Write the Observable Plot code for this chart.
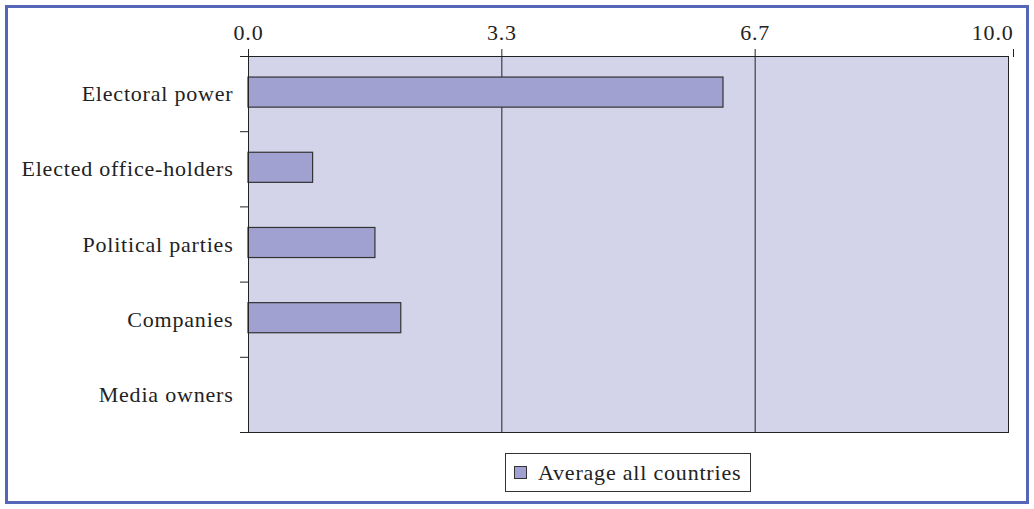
<!DOCTYPE html>
<html>
<head>
<meta charset="utf-8">
<script src="https://cdn.jsdelivr.net/npm/d3@7"></script>
<script src="https://cdn.jsdelivr.net/npm/@observablehq/plot@0.6"></script>
<style>
  html, body { margin: 0; padding: 0; background: #fff; }
  #wrap { position: relative; width: 1034px; height: 509px; overflow: hidden; font-family: "Liberation Serif", "DejaVu Serif", serif; }
  #chart svg text { letter-spacing: 0.8px; }
  #border { position: absolute; left: 5px; top: 5px; width: 1018px; height: 493px; border: 3px solid #5565b8; pointer-events: none; }
  #legend { position: absolute; left: 505px; top: 453px; height: 37px; padding: 0 9px 0 8px; border: 1px solid #333; background: #fff;
            display: flex; align-items: center; gap: 11px; font-size: 22px; letter-spacing: 0.8px; color: #222; }
  #legend .sw { width: 11px; height: 11px; background: #a0a1d0; border: 1px solid #333; }
</style>
</head>
<body>
<div id="wrap">
  <div id="chart"></div>
  <div id="legend"><span class="sw"></span><span>Average all countries</span></div>
  <div id="border"></div>
</div>
<script>
// Categories, top to bottom
const categories = ["Electoral power", "Elected office-holders", "Political parties", "Companies", "Media owners"];
// Average score for all countries (0–10 scale)
const values = [6.25, 0.85, 1.67, 2.01, 0];
// Top axis ticks
const xTicks = [0, 10 / 3, 20 / 3, 10];

const rows = categories.map((name, i) => ({name, value: values[i], row: i}));
const fmt = d3.format(".1f");

const chart = Plot.plot({
  width: 1034,
  height: 445,
  marginLeft: 248,
  marginRight: 26,
  marginTop: 56,
  marginBottom: 13,
  style: {fontFamily: "Liberation Serif, DejaVu Serif, serif", fontSize: "22px", color: "#222", background: "transparent"},
  x: {domain: [0, 10]},
  y: {domain: [0, categories.length], reverse: true},
  marks: [
    Plot.frame({fill: "#d3d4e9", stroke: null}),
    Plot.ruleX(xTicks.slice(1, -1), {stroke: "#222", strokeWidth: 1}),
    Plot.rectX(rows, {
      x1: 0, x2: "value",
      y1: d => d.row + 0.28, y2: d => d.row + 0.68,
      fill: "#a0a1d0", stroke: "#333", strokeWidth: 1.2,
      filter: d => d.value > 0
    }),
    Plot.frame({stroke: "#222", strokeWidth: 1}),
    // top axis: inner labels centred on their ticks, the last one kept inside the border
    Plot.axisX({anchor: "top", ticks: xTicks.slice(0, -1), tickFormat: fmt, tickSize: 8, tickPadding: 9, label: null, stroke: "#222"}),
    Plot.axisX({anchor: "top", ticks: xTicks.slice(-1), tickFormat: fmt, tickSize: 8, tickPadding: 9, label: null, stroke: "#222",
                textAnchor: "end", dx: 5}),
    Plot.axisY({ticks: d3.range(categories.length + 1), tickSize: 8, tickFormat: () => "", label: null, stroke: "#222"}),
    Plot.axisY({ticks: categories.map((c, i) => i + 0.5), tickSize: 0, tickPadding: 15,
                tickFormat: v => categories[Math.floor(v)], label: null})
  ]
});
document.getElementById("chart").appendChild(chart);
</script>
</body>
</html>
